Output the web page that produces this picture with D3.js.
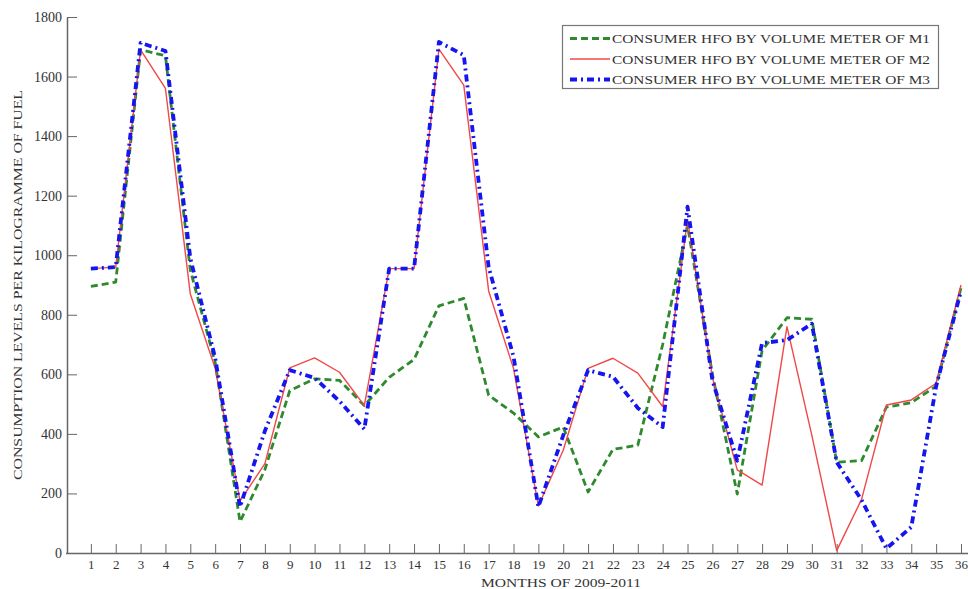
<!DOCTYPE html>
<html><head><meta charset="utf-8">
<script src="https://cdn.jsdelivr.net/npm/d3@7"></script>
<style>body{margin:0;background:#fff;}svg{display:block;font-family:"Liberation Serif","DejaVu Serif",serif;}</style>
</head><body><svg id="c" width="968" height="589"></svg>
<script>
const months = d3.range(1, 37);
const m1 = [895,910,1690,1670,950,640,105,280,545,585,580,495,590,650,830,855,530,470,390,423,205,348,362,700,1100,600,198,680,790,785,305,310,490,505,560,890];
const m2 = [955,960,1690,1560,870,620,175,300,622,655,607,495,955,955,1692,1571,880,620,158,345,620,654,604,492,1120,590,279,228,760,395,8,180,497,514,570,900];
const m3 = [955,960,1713,1686,990,655,155,410,614,588,510,416,955,955,1716,1672,960,660,155,395,614,592,487,423,1163,580,310,705,715,770,305,178,15,87,560,880];
const seriesNames = ["CONSUMER HFO BY VOLUME METER OF M1","CONSUMER HFO BY VOLUME METER OF M2","CONSUMER HFO BY VOLUME METER OF M3"];
const yTicks = [0,200,400,600,800,1000,1200,1400,1600,1800];
const xTitle = "MONTHS OF 2009-2011";
const yTitle = "CONSUMPTION LEVELS PER KILOGRAMME OF FUEL";

const svg = d3.select("#c");
const x = d3.scaleLinear().domain([0,36]).range([66,961]);
const y = d3.scaleLinear().domain([0,1800]).range([553,17]);

const axisCol = "#666";
const txtCol = "#333";
const xAx = svg.append("g").attr("transform","translate(0,553)")
  .call(d3.axisBottom(x).tickValues(months).tickFormat(d3.format("d")).tickSizeInner(-9).tickSizeOuter(0).tickPadding(7));
xAx.select(".domain").remove();
svg.append("line").attr("x1",66).attr("x2",968).attr("y1",553.5).attr("y2",553.5).attr("stroke",axisCol).attr("stroke-width",1.5);
xAx.selectAll("line").attr("stroke",axisCol);
xAx.selectAll("text").attr("font-size",13).attr("fill",txtCol).attr("font-family","Liberation Serif");

const yAx = svg.append("g").attr("transform","translate(67,0)")
  .call(d3.axisLeft(y).tickValues(yTicks).tickFormat(d3.format("d")).tickSizeInner(-10).tickSizeOuter(0).tickPadding(5));
yAx.select(".domain").attr("stroke",axisCol).attr("stroke-width",1.5);
yAx.selectAll("line").attr("stroke",axisCol);
yAx.selectAll("text").attr("font-size",14).attr("fill",txtCol).attr("font-family","Liberation Serif");

svg.append("text").attr("x",481).attr("y",587).attr("font-size",13).attr("fill",txtCol)
  .attr("textLength",160).attr("lengthAdjust","spacingAndGlyphs").text(xTitle);
svg.append("text").attr("transform","translate(22,480) rotate(-90)").attr("font-size",13).attr("fill",txtCol)
  .attr("textLength",390).attr("lengthAdjust","spacingAndGlyphs").text(yTitle);

const line = d3.line().x((d,i)=>x(months[i])).y(d=>y(d));
const styles = [
  {data:m1, color:"#2f8a2f", w:2.8, dash:"7,4"},
  {data:m2, color:"#f04848", w:1.4, dash:null},
  {data:m3, color:"#1515f0", w:3.8, dash:"7,4,2,4"}
];
styles.forEach(s=>{
  svg.append("path").attr("d",line(s.data)).attr("fill","none").attr("stroke",s.color)
    .attr("stroke-width",s.w).attr("stroke-dasharray",s.dash).attr("stroke-linejoin","round");
});

const lg = svg.append("g");
lg.append("rect").attr("x",562.5).attr("y",25.5).attr("width",376).attr("height",63).attr("fill","#fff").attr("stroke","#777").attr("stroke-width",1.2);
styles.forEach((s,i)=>{
  const yy = 38.5 + i*20.5;
  lg.append("line").attr("x1",570).attr("x2",610).attr("y1",yy).attr("y2",yy).attr("stroke",s.color)
    .attr("stroke-width",s.w).attr("stroke-dasharray",s.dash);
  lg.append("text").attr("x",612).attr("y",yy+4.5).attr("font-size",13).attr("fill",txtCol)
    .attr("textLength",318).attr("lengthAdjust","spacingAndGlyphs").text(seriesNames[i]);
});
</script></body></html>
